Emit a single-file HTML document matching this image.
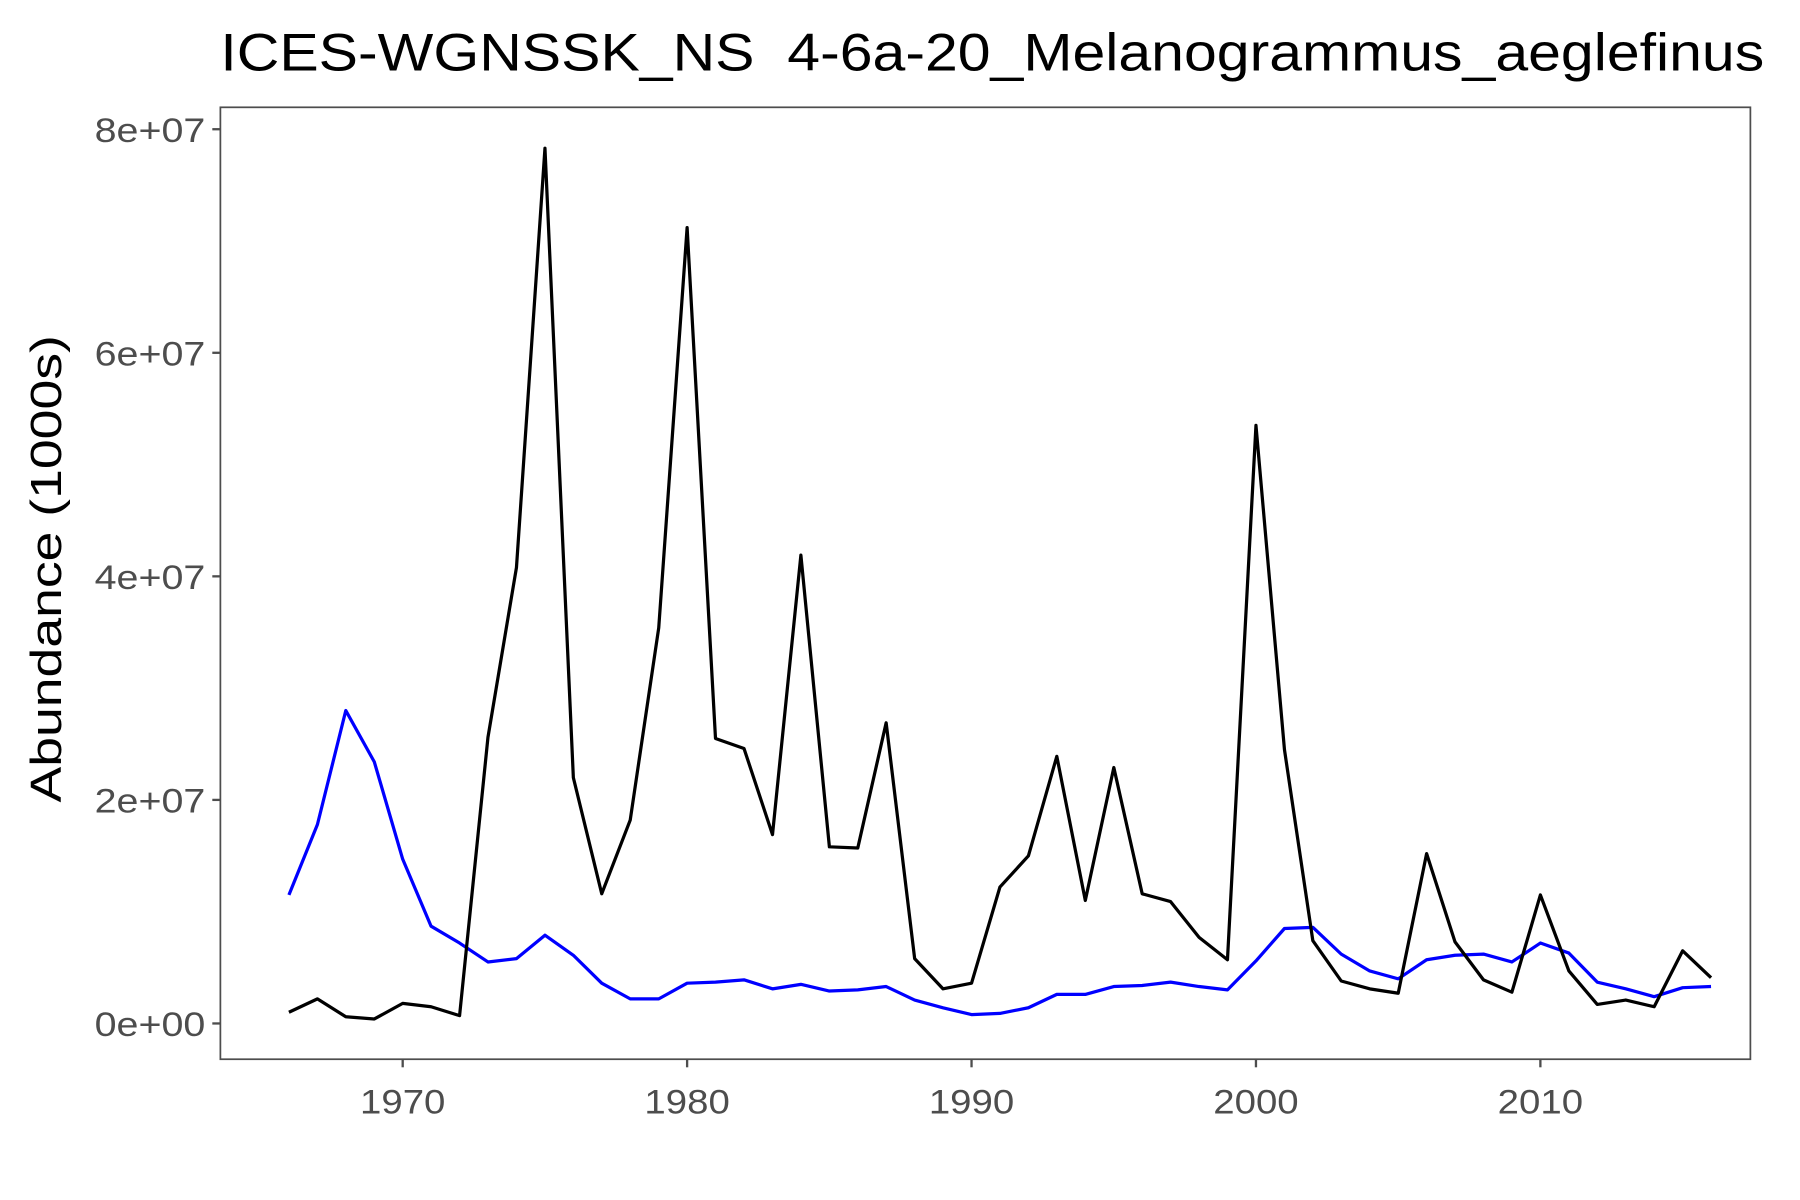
<!DOCTYPE html>
<html><head><meta charset="utf-8"><style>
html,body{margin:0;padding:0;background:#fff;}
svg{display:block;font-family:"Liberation Sans",Arial,sans-serif;}
</style></head><body>
<svg id="chart" width="1800" height="1200" viewBox="0 0 1560 1040" xmlns="http://www.w3.org/2000/svg">
<rect width="1560" height="1040" fill="#fff"/>
<text x="191" y="61" font-size="46" fill="#000" textLength="1338" lengthAdjust="spacingAndGlyphs" xml:space="preserve">ICES-WGNSSK_NS  4-6a-20_Melanogrammus_aeglefinus</text>
<text transform="translate(53,493) rotate(-90)" text-anchor="middle" font-size="38" fill="#000" textLength="405" lengthAdjust="spacingAndGlyphs">Abundance (1000s)</text>
<rect x="191" y="93" width="1326" height="825" fill="none" stroke="#4d4d4d" stroke-width="1.5"/>
<g id="axes"></g>
<g id="series"></g>
</svg>
<script>
const years = [];
for (let y = 1966; y <= 2016; y++) years.push(y);
const blackValues = [1.0,2.2,0.6,0.4,1.8,1.5,0.7,25.6,40.8,78.3,22.0,11.6,18.2,35.4,71.2,25.5,24.6,16.9,41.9,15.8,15.7,26.9,5.8,3.1,3.6,12.2,15.0,23.9,11.0,22.9,11.6,10.9,7.7,5.7,53.5,24.5,7.4,3.8,3.1,2.7,15.2,7.3,3.9,2.8,11.5,4.7,1.7,2.1,1.5,6.5,4.1];
const blueValues = [11.5,17.8,28.0,23.4,14.7,8.7,7.2,5.5,5.8,7.9,6.1,3.6,2.2,2.2,3.6,3.7,3.9,3.1,3.5,2.9,3.0,3.3,2.1,1.4,0.8,0.9,1.4,2.6,2.6,3.3,3.4,3.7,3.3,3.0,5.6,8.5,8.6,6.2,4.7,4.0,5.7,6.1,6.2,5.5,7.2,6.3,3.7,3.1,2.4,3.2,3.3];
const yTicks = [0,20,40,60,80];
const yTickLabels = ["0e+00","2e+07","4e+07","6e+07","8e+07"];
const xTicks = [1970,1980,1990,2000,2010];

const NS = "http://www.w3.org/2000/svg";
function xs(yr){ return 349 + (yr - 1970) * 24.65; }
function ys(v){ return 887 - v * 9.6875; }
const axes = document.getElementById('axes');
const series = document.getElementById('series');
function mk(tag, attrs, parent){ const e=document.createElementNS(NS,tag); for(const k in attrs) e.setAttribute(k,attrs[k]); parent.appendChild(e); return e; }

yTicks.forEach((v,i)=>{
  const t = mk('line',{x1:184,x2:191,y1:ys(v),y2:ys(v),stroke:'#4d4d4d','stroke-width':2},axes);
  
  
  const l = mk('text',{x:178,y:ys(v)+11,'text-anchor':'end','font-size':30,fill:'#4d4d4d',textLength:96,lengthAdjust:'spacingAndGlyphs'},axes);
  l.textContent = yTickLabels[i];
  
  
});
xTicks.forEach(v=>{
  const t = mk('line',{x1:xs(v),x2:xs(v),y1:918,y2:925,stroke:'#4d4d4d','stroke-width':2},axes);
  
  
  const l = mk('text',{x:xs(v),y:965,'text-anchor':'middle','font-size':30,fill:'#4d4d4d',textLength:74,lengthAdjust:'spacingAndGlyphs'},axes);
  l.textContent = String(v);
  
  
});
function line(vals, color, name){
  const pts = vals.map((v,i)=>xs(years[i]).toFixed(1)+','+ys(v).toFixed(1)).join(' ');
  const p = mk('polyline',{points:pts,fill:'none',stroke:color,'stroke-width':2.8,'stroke-linejoin':'round'},series);
  
  
}
line(blueValues,'#0000ff','blue-series-line');
line(blackValues,'#000000','black-series-line');
</script>
</body></html>
